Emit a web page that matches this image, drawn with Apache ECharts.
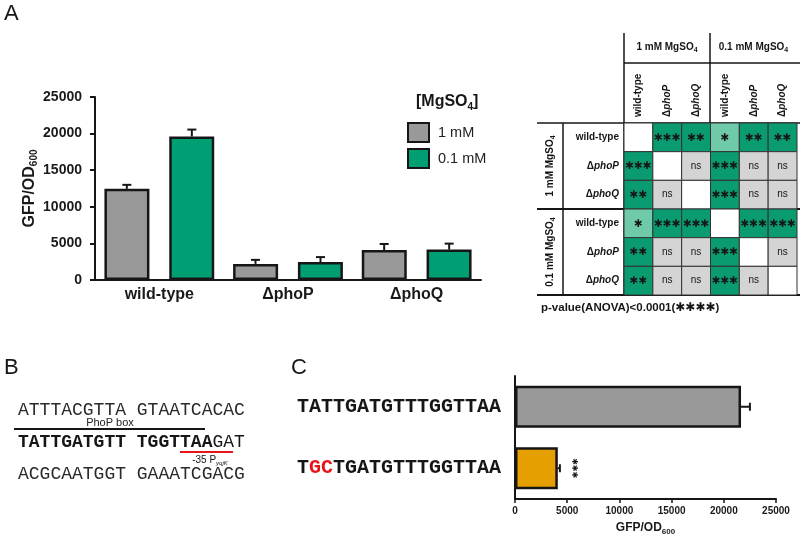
<!DOCTYPE html>
<html><head><meta charset="utf-8">
<script src="https://cdn.jsdelivr.net/npm/echarts@6/dist/echarts.min.js"></script>
<style>html,body{margin:0;padding:0;background:#fff}#c{width:800px;height:538px}</style>
</head><body><div id="c"></div>
<script>
// ---------- Panel A data ----------
const categoriesA = ['wild-type', 'ΔphoP', 'ΔphoQ'];
const seriesNamesA = ['1 mM', '0.1 mM'];
const gfp1mM = [12450, 2200, 4100];
const err1mM = [550, 550, 820];
const gfp01mM = [19600, 2450, 4150];
const err01mM = [950, 680, 820];
const yTicksA = [0, 5000, 10000, 15000, 20000, 25000];

// ---------- Panel A table (pairwise significance) ----------
const heatStrains = ['wild-type', 'ΔphoP', 'ΔphoQ'];
const heatGroups = ['1 mM', '0.1 mM'];
const sigMatrix = [
  ['',    '***', '**',  '*',   '**',  '**'],
  ['***', '',    'ns',  '***', 'ns',  'ns'],
  ['**',  'ns',  '',    '***', 'ns',  'ns'],
  ['*',   '***', '***', '',    '***', '***'],
  ['**',  'ns',  'ns',  '***', '',    'ns'],
  ['**',  'ns',  'ns',  '***', 'ns',  '']
];

// ---------- Panel B data ----------
const seqB = ['ATTTACGTTA GTAATCACAC', 'TATTGATGTT TGGTTAAGAT', 'ACGCAATGGT GAAATCGACG'];

// ---------- Panel C data ----------
const seqC = ['TATTGATGTTTGGTTAA', 'TGCTGATGTTTGGTTAA'];
const gfpC = [21650, 4100];
const errC = [850, 200];
const sigC = ['', '***'];
const xTicksC = [0, 5000, 10000, 15000, 20000, 25000];

// ---------- styling ----------
const SANS = '"Liberation Sans", Arial, sans-serif';
const MONO = '"Liberation Mono", "Courier New", monospace';
const STAR = '"DejaVu Sans", sans-serif';
const INK = '#161616';
const GRAY = '#999999', GREEN = '#009E73', ORANGE = '#E69F00';
const cellColor = { '***': '#0a9b70', '**': '#0a9b70', '*': '#6fcaa9', 'ns': '#d4d4d4', '': '#ffffff' };
const starText = s => s.replace(/\*/g, '✱');
const plainNum = v => String(v);

const heatKeys = [];
heatGroups.forEach((g, gi) => heatStrains.forEach(s => heatKeys.push(gi + '|' + s)));
const heatFmt = v => {
  const s = v.split('|')[1];
  return s.charAt(0) === 'Δ' ? '{d|Δ}{i|' + s.slice(1) + '}' : '{n|' + s + '}';
};
const heatRich = {
  n: { fontSize: 10, fontWeight: 'bold', fontFamily: SANS, color: INK },
  d: { fontSize: 10, fontWeight: 'bold', fontFamily: SANS, color: INK },
  i: { fontSize: 10, fontWeight: 'bold', fontStyle: 'italic', fontFamily: SANS, color: INK }
};
const subRich = (size, bold, color) => ({
  a: { fontSize: size, fontWeight: bold ? 'bold' : 'normal', fontFamily: SANS, color: color, lineHeight: size + 4 },
  s: { fontSize: Math.round(size * 0.65), fontWeight: bold ? 'bold' : 'normal', fontFamily: SANS, color: color, lineHeight: Math.round(size * 0.65), verticalAlign: 'bottom' }
});

const seqFmt = v => {
  let out = '';
  for (let k = 0; k < v.length; k++) {
    const ch = v.charAt(k);
    out += (ch !== seqC[0].charAt(k) ? '{r|' : '{b|') + ch + '}';
  }
  return out;
};

function errA(sign) {
  return function (params, api) {
    const i = api.value(0), v = api.value(1), e = api.value(2);
    const p0 = api.coord([i, v]), p1 = api.coord([i, v + e]);
    const x = p0[0] + sign * 32.5;
    return { type: 'group', children: [
      { type: 'line', shape: { x1: x, y1: p0[1], x2: x, y2: p1[1] }, style: { stroke: INK, lineWidth: 2 } },
      { type: 'line', shape: { x1: x - 4.5, y1: p1[1], x2: x + 4.5, y2: p1[1] }, style: { stroke: INK, lineWidth: 2 } }
    ] };
  };
}

const heatData = [];
for (let r = 0; r < 6; r++) for (let c = 0; c < 6; c++) heatData.push([c, r]);

// ---------- graphics (labels, table rules, panel B) ----------
const g = [];
const txt = (x, y, text, style, extra) => g.push(Object.assign({ type: 'text', x: x, y: y, style: Object.assign({ text: text, fill: INK, fontFamily: SANS, verticalAlign: 'middle' }, style) }, extra || {}));
const line = (x1, y1, x2, y2, w, color) => g.push({ type: 'line', shape: { x1: x1, y1: y1, x2: x2, y2: y2 }, style: { stroke: color || INK, lineWidth: w } });

txt(4, 14, 'A', { fontSize: 22 });
txt(4, 368, 'B', { fontSize: 22 });
txt(291, 368, 'C', { fontSize: 22 });
// legend title
txt(416, 102, '{a|[MgSO}{s|4}{a|]}', { rich: subRich(16, true, INK) });

// table rules
line(624, 33, 624, 295, 1.5);
line(710, 33, 710, 123, 1.5);
line(624, 63, 800, 63, 1.5);
line(537, 123, 800, 123, 1.5);
line(537, 209, 800, 209, 2);
line(537, 295, 800, 295, 2);
line(563, 123, 563, 295, 1.5);
heatGroups.forEach((gname, gi) => {
  txt(667 + gi * 86.5, 47, '{a|' + gname + ' MgSO}{s|4}', { align: 'center', rich: subRich(10, true, INK) });
  txt(550, 166 + gi * 86, '{a|' + gname + ' MgSO}{s|4}', { align: 'center', rich: subRich(10, true, INK) }, { rotation: Math.PI / 2 });
});
txt(541, 308, '{a|p-value(ANOVA)<0.0001(}{s|✱✱✱✱}{a|)}', { rich: {
  a: { fontSize: 11.5, fontWeight: 'bold', fontFamily: SANS, color: INK },
  s: { fontSize: 12, fontFamily: STAR, color: INK }
} });

// panel B
txt(18, 410, seqB[0], { fontSize: 18, fontFamily: MONO, fill: '#2a2a2a' });
txt(110, 423, 'PhoP box', { fontSize: 11, align: 'center', fill: '#222' });
line(14, 429, 205, 429, 2);
txt(18, 442, '{k|' + seqB[1].slice(0, 15) + '}{rb|' + seqB[1].slice(15, 18) + '}{r|' + seqB[1].slice(18) + '}', { rich: {
  k: { fontSize: 18, fontWeight: 'bold', fontFamily: MONO, color: INK },
  rb: { fontSize: 18, fontWeight: 'bold', fontFamily: MONO, color: '#e8141c' },
  r: { fontSize: 18, fontFamily: MONO, color: '#e8141c' }
} });
line(180, 452, 233, 452, 2, '#e8141c');
txt(210, 460, '{a|-35 P}{s|yqjK}', { align: 'center', rich: {
  a: { fontSize: 10, fontFamily: SANS, color: '#e8141c', lineHeight: 12 },
  s: { fontSize: 6, fontStyle: 'italic', fontFamily: SANS, color: '#e8141c', lineHeight: 6, verticalAlign: 'bottom' }
} });
txt(18, 474, seqB[2], { fontSize: 18, fontFamily: MONO, fill: '#2a2a2a' });

const option = {
  backgroundColor: '#ffffff',
  animation: false,
  grid: [
    { left: 95, top: 97, width: 386, height: 183 },
    { left: 624, top: 123, width: 173, height: 172 },
    { left: 515, top: 376, width: 261, height: 123 }
  ],
  legend: {
    data: seriesNamesA, orient: 'vertical', left: 402, top: 117,
    itemWidth: 21, itemHeight: 19, itemGap: 5, icon: 'rect',
    itemStyle: { borderColor: INK, borderWidth: 2 },
    textStyle: { fontSize: 14.5, color: '#222', fontFamily: SANS, padding: [0, 0, 0, 4] }
  },
  xAxis: [
    { gridIndex: 0, type: 'category', data: categoriesA,
      axisLine: { lineStyle: { color: INK, width: 2 } },
      axisTick: { length: 22, lineStyle: { color: INK, width: 2 } },
      axisLabel: { fontSize: 16, fontWeight: 'bold', color: '#1a1a1a', fontFamily: SANS, margin: 7 } },
    { gridIndex: 0, type: 'category', data: categoriesA, position: 'bottom',
      axisLine: { show: false },
      axisTick: { alignWithLabel: true, length: 4, lineStyle: { color: INK, width: 1.5 } },
      axisLabel: { show: false } },
    { gridIndex: 1, type: 'category', position: 'top', data: heatKeys,
      axisLine: { show: false }, axisTick: { show: false },
      axisLabel: { rotate: -90, margin: 6, formatter: heatFmt, rich: heatRich } },
    { gridIndex: 2, type: 'value', min: xTicksC[0], max: xTicksC[xTicksC.length - 1], interval: xTicksC[1] - xTicksC[0],
      splitLine: { show: false },
      axisLine: { show: true, lineStyle: { color: INK, width: 2 } },
      axisTick: { show: true, length: 4, lineStyle: { color: INK, width: 1.5 } },
      axisLabel: { fontSize: 10, fontWeight: 'bold', color: '#1a1a1a', fontFamily: SANS, margin: 7, formatter: plainNum },
      name: '{a|GFP/OD}{s|600}', nameLocation: 'middle', nameGap: 21,
      nameTextStyle: { rich: subRich(12, true, '#1a1a1a') } }
  ],
  yAxis: [
    { gridIndex: 0, type: 'value', min: yTicksA[0], max: yTicksA[yTicksA.length - 1], interval: yTicksA[1] - yTicksA[0],
      splitLine: { show: false },
      axisLine: { show: true, lineStyle: { color: INK, width: 2 } },
      axisTick: { show: true, length: 5, lineStyle: { color: INK, width: 2 } },
      axisLabel: { fontSize: 14, fontWeight: 'bold', color: '#1a1a1a', fontFamily: SANS, margin: 13, formatter: plainNum },
      name: '{a|GFP/OD}{s|600}', nameLocation: 'middle', nameGap: 44, nameRotate: 90,
      nameTextStyle: { rich: subRich(16, true, '#1a1a1a') } },
    { gridIndex: 1, type: 'category', inverse: true, data: heatKeys,
      axisLine: { show: false }, axisTick: { show: false },
      axisLabel: { margin: 5, formatter: heatFmt, rich: heatRich } },
    { gridIndex: 2, type: 'category', inverse: true, data: seqC,
      axisLine: { lineStyle: { color: INK, width: 2 } },
      axisTick: { length: 4, lineStyle: { color: INK, width: 1.5 } },
      axisLabel: { align: 'left', margin: 218, formatter: seqFmt, rich: {
        b: { fontSize: 20, fontWeight: 'bold', fontFamily: MONO, color: INK },
        r: { fontSize: 20, fontWeight: 'bold', fontFamily: MONO, color: '#e8141c' }
      } } }
  ],
  series: [
    { type: 'bar', name: seriesNamesA[0], xAxisIndex: 0, yAxisIndex: 0, data: gfp1mM,
      barWidth: 45, barGap: '44%', itemStyle: { color: GRAY, borderColor: INK, borderWidth: 2.5 } },
    { type: 'bar', name: seriesNamesA[1], xAxisIndex: 0, yAxisIndex: 0, data: gfp01mM,
      barWidth: 45, barGap: '44%', itemStyle: { color: GREEN, borderColor: INK, borderWidth: 2.5 } },
    { type: 'custom', xAxisIndex: 0, yAxisIndex: 0, z: 5,
      data: gfp1mM.map((v, i) => [i, v, err1mM[i]]), renderItem: errA(-1) },
    { type: 'custom', xAxisIndex: 0, yAxisIndex: 0, z: 5,
      data: gfp01mM.map((v, i) => [i, v, err01mM[i]]), renderItem: errA(1) },
    { type: 'custom', xAxisIndex: 2, yAxisIndex: 1, data: heatData,
      renderItem: function (params, api) {
        const c = api.value(0), r = api.value(1);
        const p = api.coord([c, r]);
        const sz = api.size([1, 1]);
        const w = Math.abs(sz[0]), h = Math.abs(sz[1]);
        const lab = sigMatrix[r][c];
        const isStar = lab.indexOf('*') >= 0;
        return { type: 'group', children: [
          { type: 'rect', shape: { x: p[0] - w / 2, y: p[1] - h / 2, width: w, height: h },
            style: { fill: cellColor[lab], stroke: '#333', lineWidth: 1 } },
          { type: 'text', x: p[0], y: p[1] + (isStar ? 0.5 : 0), style: {
            text: isStar ? starText(lab) : lab, align: 'center', verticalAlign: 'middle',
            fontSize: isStar ? 10.5 : 10, fontFamily: isStar ? STAR : SANS, fill: INK } }
        ] };
      } },
    { type: 'bar', xAxisIndex: 3, yAxisIndex: 2, barWidth: 42,
      data: gfpC.map((v, i) => ({ value: v, itemStyle: { color: i === 0 ? GRAY : ORANGE } })),
      itemStyle: { borderColor: INK, borderWidth: 2.5 } },
    { type: 'custom', xAxisIndex: 3, yAxisIndex: 2, z: 5,
      encode: { x: 0, y: 1 },
      data: gfpC.map((v, i) => [v, i, errC[i]]),
      renderItem: function (params, api) {
        const v = api.value(0), i = api.value(1), e = api.value(2);
        const p0 = api.coord([v, i]), p1 = api.coord([v + e, i]);
        const ch = [
          { type: 'line', shape: { x1: p0[0], y1: p0[1], x2: p1[0], y2: p1[1] }, style: { stroke: INK, lineWidth: 2 } },
          { type: 'line', shape: { x1: p1[0], y1: p1[1] - 4, x2: p1[0], y2: p1[1] + 4 }, style: { stroke: INK, lineWidth: 2 } }
        ];
        const s = sigC[params.dataIndex];
        if (s) ch.push({ type: 'text', x: p1[0] + 16, y: p1[1], rotation: Math.PI / 2,
          style: { text: starText(s), align: 'center', verticalAlign: 'middle', fontSize: 8, fontFamily: STAR, fill: INK } });
        return { type: 'group', children: ch };
      } }
  ],
  graphic: g
};

const chart = echarts.init(document.getElementById('c'), null, { renderer: 'canvas' });
chart.setOption(option);
</script>
</body></html>
